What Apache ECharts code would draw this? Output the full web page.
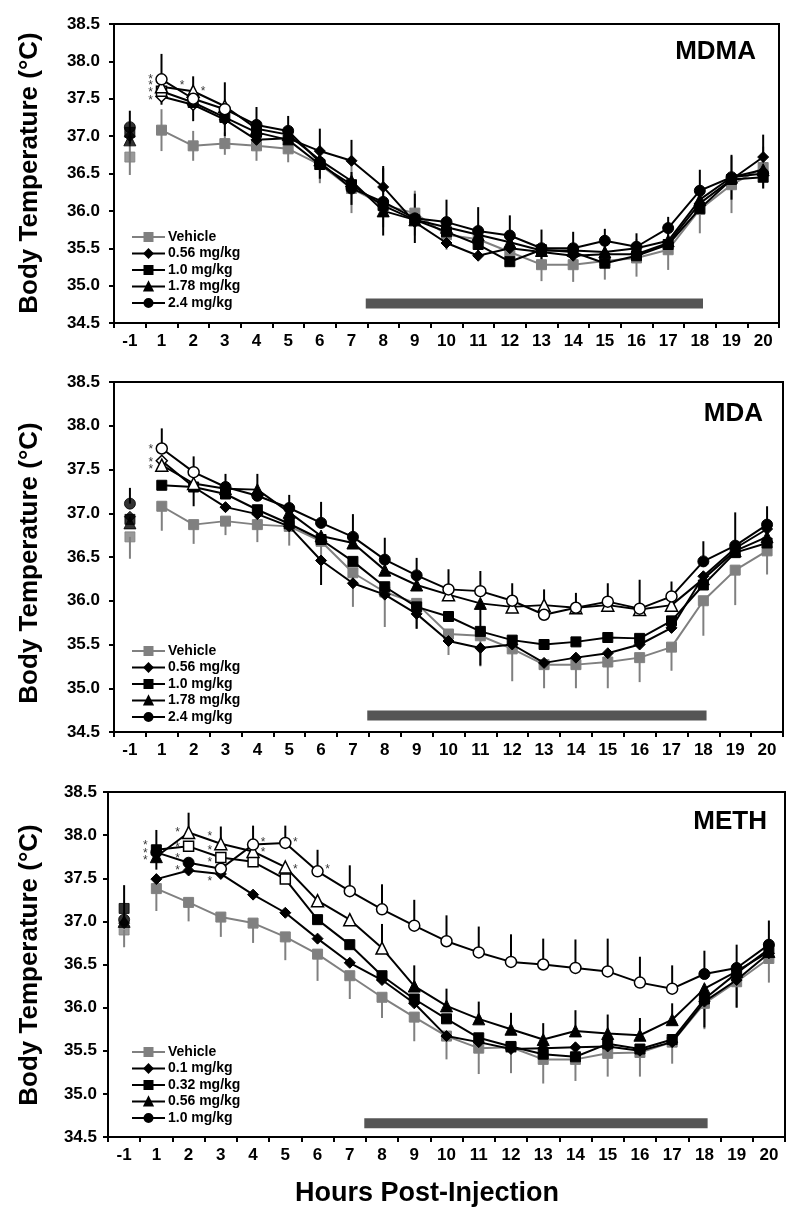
<!DOCTYPE html>
<html>
<head>
<meta charset="utf-8">
<script src="https://cdn.jsdelivr.net/npm/echarts@6/dist/echarts.min.js"></script>
<style>html,body{margin:0;padding:0;background:#fff}#c{width:800px;height:1217px}</style>
</head>
<body>
<div id="c"></div>
<script>
// ---------------- DATA ----------------
const hourLabels = ['-1','1','2','3','4','5','6','7','8','9','10','11','12','13','14','15','16','17','18','19','20'];
const yMin = 34.5, yMax = 38.5, yStep = 0.5;

// MDMA panel
const mdmaNames = ['Vehicle','0.56 mg/kg','1.0 mg/kg','1.78 mg/kg','2.4 mg/kg'];
const mdmaVehicle = [36.72,37.08,36.87,36.90,36.87,36.83,36.62,36.30,36.08,35.97,35.68,35.62,35.45,35.28,35.28,35.33,35.37,35.48,36.02,36.35,36.58];
const mdmaD056    = [37.00,37.53,37.42,37.22,36.95,36.97,36.80,36.67,36.32,35.85,35.57,35.40,35.50,35.45,35.40,35.42,35.42,35.57,36.10,36.42,36.72];
const mdmaD100    = [37.05,37.60,37.45,37.25,37.05,36.95,36.62,36.35,36.07,35.88,35.72,35.55,35.32,35.48,35.45,35.30,35.40,35.55,36.03,36.42,36.45];
const mdmaD178    = [36.95,37.66,37.60,37.40,37.10,37.02,36.68,36.40,36.00,35.88,35.78,35.68,35.58,35.47,35.47,35.45,35.50,35.60,36.15,36.45,36.55];
const mdmaD240    = [37.12,37.76,37.50,37.36,37.15,37.07,36.65,36.30,36.12,35.90,35.85,35.73,35.67,35.50,35.50,35.60,35.52,35.77,36.27,36.45,36.50];
const mdmaOpen = [[], [1,2], [1], [1,2,3], [1,2,3]];
const mdmaVehicleSem = [0.24,0.28,0.20,0.15,0.20,0.18,0.25,0.33,0.30,0.30,0.20,0.20,0.20,0.22,0.23,0.25,0.25,0.27,0.32,0.38,0.28];
const mdmaD056Sem    = [null,null,null,null,null,null,0.30,0.28,0.28,null,null,null,null,null,null,null,null,null,null,null,0.30];
const mdmaD240Sem    = [0.22,0.34,0.30,0.36,0.24,0.20,0.22,0.22,0.45,0.33,0.30,0.32,0.27,0.25,0.22,0.16,0.18,0.15,0.28,0.30,0.20];
const mdmaStars = [[1,37.80,'L'],[1,37.71,'L'],[1,37.62,'L'],[1,37.51,'L'],[2,37.71,'L'],[2,37.64,'R']];

// MDA panel
const mdaNames = ['Vehicle','0.56 mg/kg','1.0 mg/kg','1.78 mg/kg','2.4 mg/kg'];
const mdaVehicle = [36.73,37.08,36.87,36.91,36.87,36.85,36.68,36.32,36.10,35.97,35.62,35.60,35.45,35.27,35.27,35.30,35.35,35.47,36.00,36.35,36.57];
const mdaD056    = [36.96,37.60,37.30,37.07,36.99,36.85,36.46,36.20,36.07,35.85,35.54,35.46,35.50,35.29,35.35,35.40,35.50,35.69,36.28,36.60,36.82];
const mdaD100    = [36.93,37.32,37.30,37.22,37.04,36.88,36.70,36.45,36.16,35.93,35.82,35.65,35.55,35.50,35.53,35.58,35.57,35.77,36.18,36.55,36.66];
const mdaD178    = [36.89,37.55,37.34,37.28,37.27,37.01,36.74,36.66,36.35,36.18,36.07,35.97,35.93,35.95,35.92,35.95,35.90,35.95,36.25,36.57,36.73];
const mdaD240    = [37.11,37.74,37.47,37.30,37.20,37.06,36.89,36.73,36.47,36.29,36.13,36.11,36.00,35.84,35.92,35.99,35.91,36.05,36.45,36.63,36.87];
const mdaOpen = [[], [1], [], [1,2,10,12,13,14,15,16,17], [1,2,10,11,12,13,14,15,16,17]];
const mdaVehicleSem = [0.25,0.28,0.22,0.16,0.20,0.22,0.20,0.39,0.40,0.29,0.24,0.35,0.37,0.27,0.27,0.30,0.28,0.27,0.40,0.40,0.27];
const mdaD056Sem    = [null,null,0.22,null,null,null,0.28,null,null,0.17,null,0.20,null,null,null,null,null,null,null,null,null];
const mdaD178Sem    = [null,null,null,null,null,null,null,null,null,null,null,0.33,null,null,null,null,null,null,null,null,null];
const mdaD240Sem    = [0.18,0.23,0.18,0.15,0.25,0.15,0.24,0.26,0.25,0.20,0.23,0.23,0.20,0.29,0.17,0.21,0.33,0.17,0.23,0.38,0.21];
const mdaStars = [[1,37.76,'L'],[1,37.61,'L'],[1,37.53,'L']];

// METH panel
const methNames = ['Vehicle','0.1 mg/kg','0.32 mg/kg','0.56 mg/kg','1.0 mg/kg'];
const methVehicle = [36.90,37.38,37.22,37.05,36.98,36.82,36.62,36.37,36.12,35.89,35.67,35.53,35.54,35.40,35.40,35.47,35.48,35.60,36.05,36.30,36.57];
const methD010    = [36.98,37.49,37.59,37.55,37.31,37.10,36.80,36.52,36.32,36.05,35.67,35.60,35.52,35.53,35.54,35.55,35.50,35.60,36.07,36.32,36.63];
const methD032    = [37.15,37.83,37.87,37.74,37.69,37.49,37.02,36.73,36.37,36.10,35.87,35.65,35.55,35.46,35.43,35.58,35.52,35.63,36.10,36.40,36.68];
const methD056    = [37.00,37.75,38.03,37.90,37.81,37.63,37.24,37.02,36.69,36.25,36.02,35.87,35.75,35.63,35.73,35.70,35.68,35.86,36.22,36.42,36.65];
const methD100    = [37.02,37.80,37.68,37.61,37.89,37.91,37.58,37.35,37.14,36.95,36.77,36.64,36.53,36.50,36.46,36.42,36.29,36.22,36.39,36.46,36.73];
const methOpen = [[], [], [2,3,4,5], [2,3,4,5,6,7,8], [3,4,5,6,7,8,9,10,11,12,13,14,15,16,17]];
const methVehicleSem = [0.20,0.26,0.22,0.23,0.23,0.27,0.31,0.27,0.24,0.28,0.27,0.30,0.30,0.28,0.25,0.27,0.28,0.25,0.30,0.30,0.28];
const methD010Sem    = [null,null,null,null,null,null,null,null,null,null,null,null,null,null,null,null,null,null,0.30,0.32,null];
const methD032Sem    = [null,0.23,null,null,null,null,null,null,null,null,null,null,null,null,null,null,null,null,null,null,null];
const methD056Sem    = [null,null,0.23,0.20,null,null,null,null,0.28,0.24,0.20,0.20,0.19,0.19,0.24,0.22,0.20,0.19,null,null,null];
const methD100Sem    = [0.40,null,null,null,0.22,0.20,0.25,0.30,0.29,0.30,0.30,0.30,0.32,0.30,0.33,0.38,0.30,0.27,0.27,0.27,0.28];
const methStars = [[1,37.91,'L'],[1,37.82,'L'],[1,37.74,'L'],[2,38.06,'L'],[2,37.89,'L'],[2,37.76,'L'],[2,37.62,'L'],
                   [3,38.02,'L'],[3,37.85,'L'],[3,37.71,'L'],[3,37.50,'L'],[4,37.95,'R'],[4,37.83,'R'],[5,37.95,'R'],[5,37.63,'R'],[6,37.63,'R']];

// Dark (lights-off) period, in hour-category index units, and its drawn level per panel
const darkPeriod = [7.45, 18.1];
const darkLevel = [34.76, 34.69, 34.66];
const panelTitles = ['MDMA','MDA','METH'];

// ---------------- LAYOUT / STYLE ----------------
const FONT = '"Liberation Sans", Arial, Helvetica, sans-serif';
const GRAY = '#808080';
const panels = [
  { key:'MDMA', names: mdmaNames, vals:[mdmaVehicle,mdmaD056,mdmaD100,mdmaD178,mdmaD240], open: mdmaOpen,
    errs:[[0,mdmaVehicleSem,'both'],[1,mdmaD056Sem,'up'],[4,mdmaD240Sem,'both']], stars: mdmaStars,
    grid:{left:114, top:24, width:665, height:299}, legendTop:225, titleX:756, titleY:52, yTitleY:173, labelMargin:14 },
  { key:'MDA', names: mdaNames, vals:[mdaVehicle,mdaD056,mdaD100,mdaD178,mdaD240], open: mdaOpen,
    errs:[[0,mdaVehicleSem,'down'],[1,mdaD056Sem,'down'],[3,mdaD178Sem,'down'],[4,mdaD240Sem,'up']], stars: mdaStars,
    grid:{left:114, top:382, width:669, height:350}, legendTop:639, titleX:763, titleY:414, yTitleY:563, labelMargin:14 },
  { key:'METH', names: methNames, vals:[methVehicle,methD010,methD032,methD056,methD100], open: methOpen,
    errs:[[0,methVehicleSem,'down'],[1,methD010Sem,'down'],[2,methD032Sem,'both'],[3,methD056Sem,'up'],[4,methD100Sem,'up']], stars: methStars,
    grid:{left:108, top:792, width:677, height:345}, legendTop:1040, titleX:767, titleY:822, yTitleY:965, labelMargin:11 }
];
const symbols = ['rect','diamond','rect','triangle','circle'];
const symSizes = [10,11,10,12,11];
const colors = [GRAY,'#000','#000','#000','#000'];

const option = {
  animation:false,
  backgroundColor:'#fff',
  grid:[], xAxis:[], yAxis:[], legend:[], series:[], graphic:[]
};

panels.forEach((p, pi) => {
  option.grid.push(Object.assign({show:true, borderColor:'#000', borderWidth:2, backgroundColor:'transparent'}, p.grid));
  option.xAxis.push({
    gridIndex:pi, type:'category', data:hourLabels, boundaryGap:true,
    axisLine:{show:true, onZero:false, lineStyle:{color:'#000', width:2}},
    axisTick:{show:true, alignWithLabel:false, length:5, lineStyle:{color:'#000', width:2}},
    axisLabel:{interval:0, color:'#000', fontSize:17, fontWeight:'bold', fontFamily:FONT, margin:10},
    splitLine:{show:false}
  });
  option.yAxis.push({
    gridIndex:pi, type:'value', min:yMin, max:yMax, interval:yStep,
    axisLine:{show:true, onZero:false, lineStyle:{color:'#000', width:2}},
    axisTick:{show:true, length:5, lineStyle:{color:'#000', width:2}},
    axisLabel:{color:'#000', fontSize:17, fontWeight:'bold', fontFamily:FONT, margin:p.labelMargin, formatter:v=>v.toFixed(1)},
    splitLine:{show:false}
  });
});
// hidden value x axes (one per grid) for the dark period bar
panels.forEach((p, pi) => {
  option.xAxis.push({gridIndex:pi, type:'value', min:-0.5, max:hourLabels.length-0.5, show:false,
                     axisLine:{onZero:false}});
});

panels.forEach((p, pi) => {
  // dark period bar
  option.series.push({
    type:'line', xAxisIndex:3+pi, yAxisIndex:pi, z:1, silent:true, symbol:'none',
    lineStyle:{color:'#555555', width:10, cap:'butt'},
    data:[[darkPeriod[0], darkLevel[pi]],[darkPeriod[1], darkLevel[pi]]]
  });
  // error bars
  const errData = [];
  p.errs.forEach(([si, sem, dir]) => {
    sem.forEach((s, i) => {
      if (s == null) return;
      const m = p.vals[si][i];
      const lo = dir === 'up' ? m : m - s;
      const hi = dir === 'down' ? m : m + s;
      errData.push([i, lo, hi, si === 0 ? 1 : 0]);
    });
  });
  option.series.push({
    type:'custom', xAxisIndex:pi, yAxisIndex:pi, z:2, silent:true,
    encode:{x:0, y:[1,2]},
    data:errData,
    renderItem:(params, api) => {
      const a = api.coord([api.value(0), api.value(1)]);
      const b = api.coord([api.value(0), api.value(2)]);
      return {type:'line', shape:{x1:a[0], y1:a[1], x2:b[0], y2:b[1]},
              style:{stroke: api.value(3) ? GRAY : '#000', lineWidth:2}};
    }
  });
  // lines (hours 1..20) and baseline (-1) points
  p.vals.forEach((arr, si) => {
    const name = p.key + '|' + p.names[si];
    const data = arr.map((v, i) => {
      if (i === 0) return null;
      if (p.open[si].indexOf(i) >= 0)
        return {value:v, itemStyle:{color:'#fff', borderColor:'#000', borderWidth:1.5}};
      return v;
    });
    option.series.push({
      name, type:'line', xAxisIndex:pi, yAxisIndex:pi, z: si === 0 ? 3 : 4,
      data, connectNulls:false, showAllSymbol:true,
      symbol:symbols[si], symbolSize:symSizes[si],
      lineStyle:{color:colors[si], width:2},
      itemStyle:{color:colors[si], borderColor:colors[si], borderWidth:1},
      emphasis:{disabled:true}
    });
    option.series.push({
      name: p.key + '|base|' + p.names[si], type:'scatter', xAxisIndex:pi, yAxisIndex:pi, z: si === 0 ? 3 : 4,
      data:[[0, arr[0]]], symbol:symbols[si], symbolSize:symSizes[si],
      itemStyle:{color:colors[si], borderColor:colors[si], borderWidth:1},
      emphasis:{disabled:true}
    });
  });
  // significance asterisks
  option.series.push({
    type:'scatter', xAxisIndex:pi, yAxisIndex:pi, z:6, silent:true,
    symbolSize:1, itemStyle:{color:'rgba(0,0,0,0)'},
    data:p.stars.map(([i, v, side]) => ({
      value:[i, v],
      label:{show:true, formatter:'*', position:'inside', offset:[side === 'L' ? -11 : 10, 3],
             color:'#000', fontSize:12, fontFamily:FONT}
    }))
  });
  // legend
  option.legend.push({
    data:p.names.map(n => p.key + '|' + n),
    orient:'vertical', left:126, top:p.legendTop,
    itemWidth:33, itemHeight:10, itemGap:2.5, selectedMode:false,
    formatter:n => n.split('|')[1],
    textStyle:{color:'#000', fontSize:14, fontWeight:'bold', fontFamily:FONT, lineHeight:14, padding:[0,0,0,-2]}
  });
  // texts
  option.graphic.push({
    type:'text', x:30, y:p.yTitleY, rotation:Math.PI/2, silent:true,
    style:{text:'Body Temperature (°C)', font:'bold 26px ' + FONT, fill:'#000',
           align:'center', verticalAlign:'middle', textAlign:'center', textVerticalAlign:'middle'}
  });
  option.graphic.push({
    type:'text', x:p.titleX, y:p.titleY, silent:true,
    style:{text:panelTitles[pi], font:'bold 26px ' + FONT, fill:'#000',
           align:'right', verticalAlign:'middle', textAlign:'right', textVerticalAlign:'middle'}
  });
});
option.graphic.push({
  type:'text', x:427, y:1194, silent:true,
  style:{text:'Hours Post-Injection', font:'bold 27px ' + FONT, fill:'#000',
         align:'center', verticalAlign:'middle', textAlign:'center', textVerticalAlign:'middle'}
});

const chart = echarts.init(document.getElementById('c'), null, {renderer:'canvas'});
chart.setOption(option);
</script>
</body>
</html>
